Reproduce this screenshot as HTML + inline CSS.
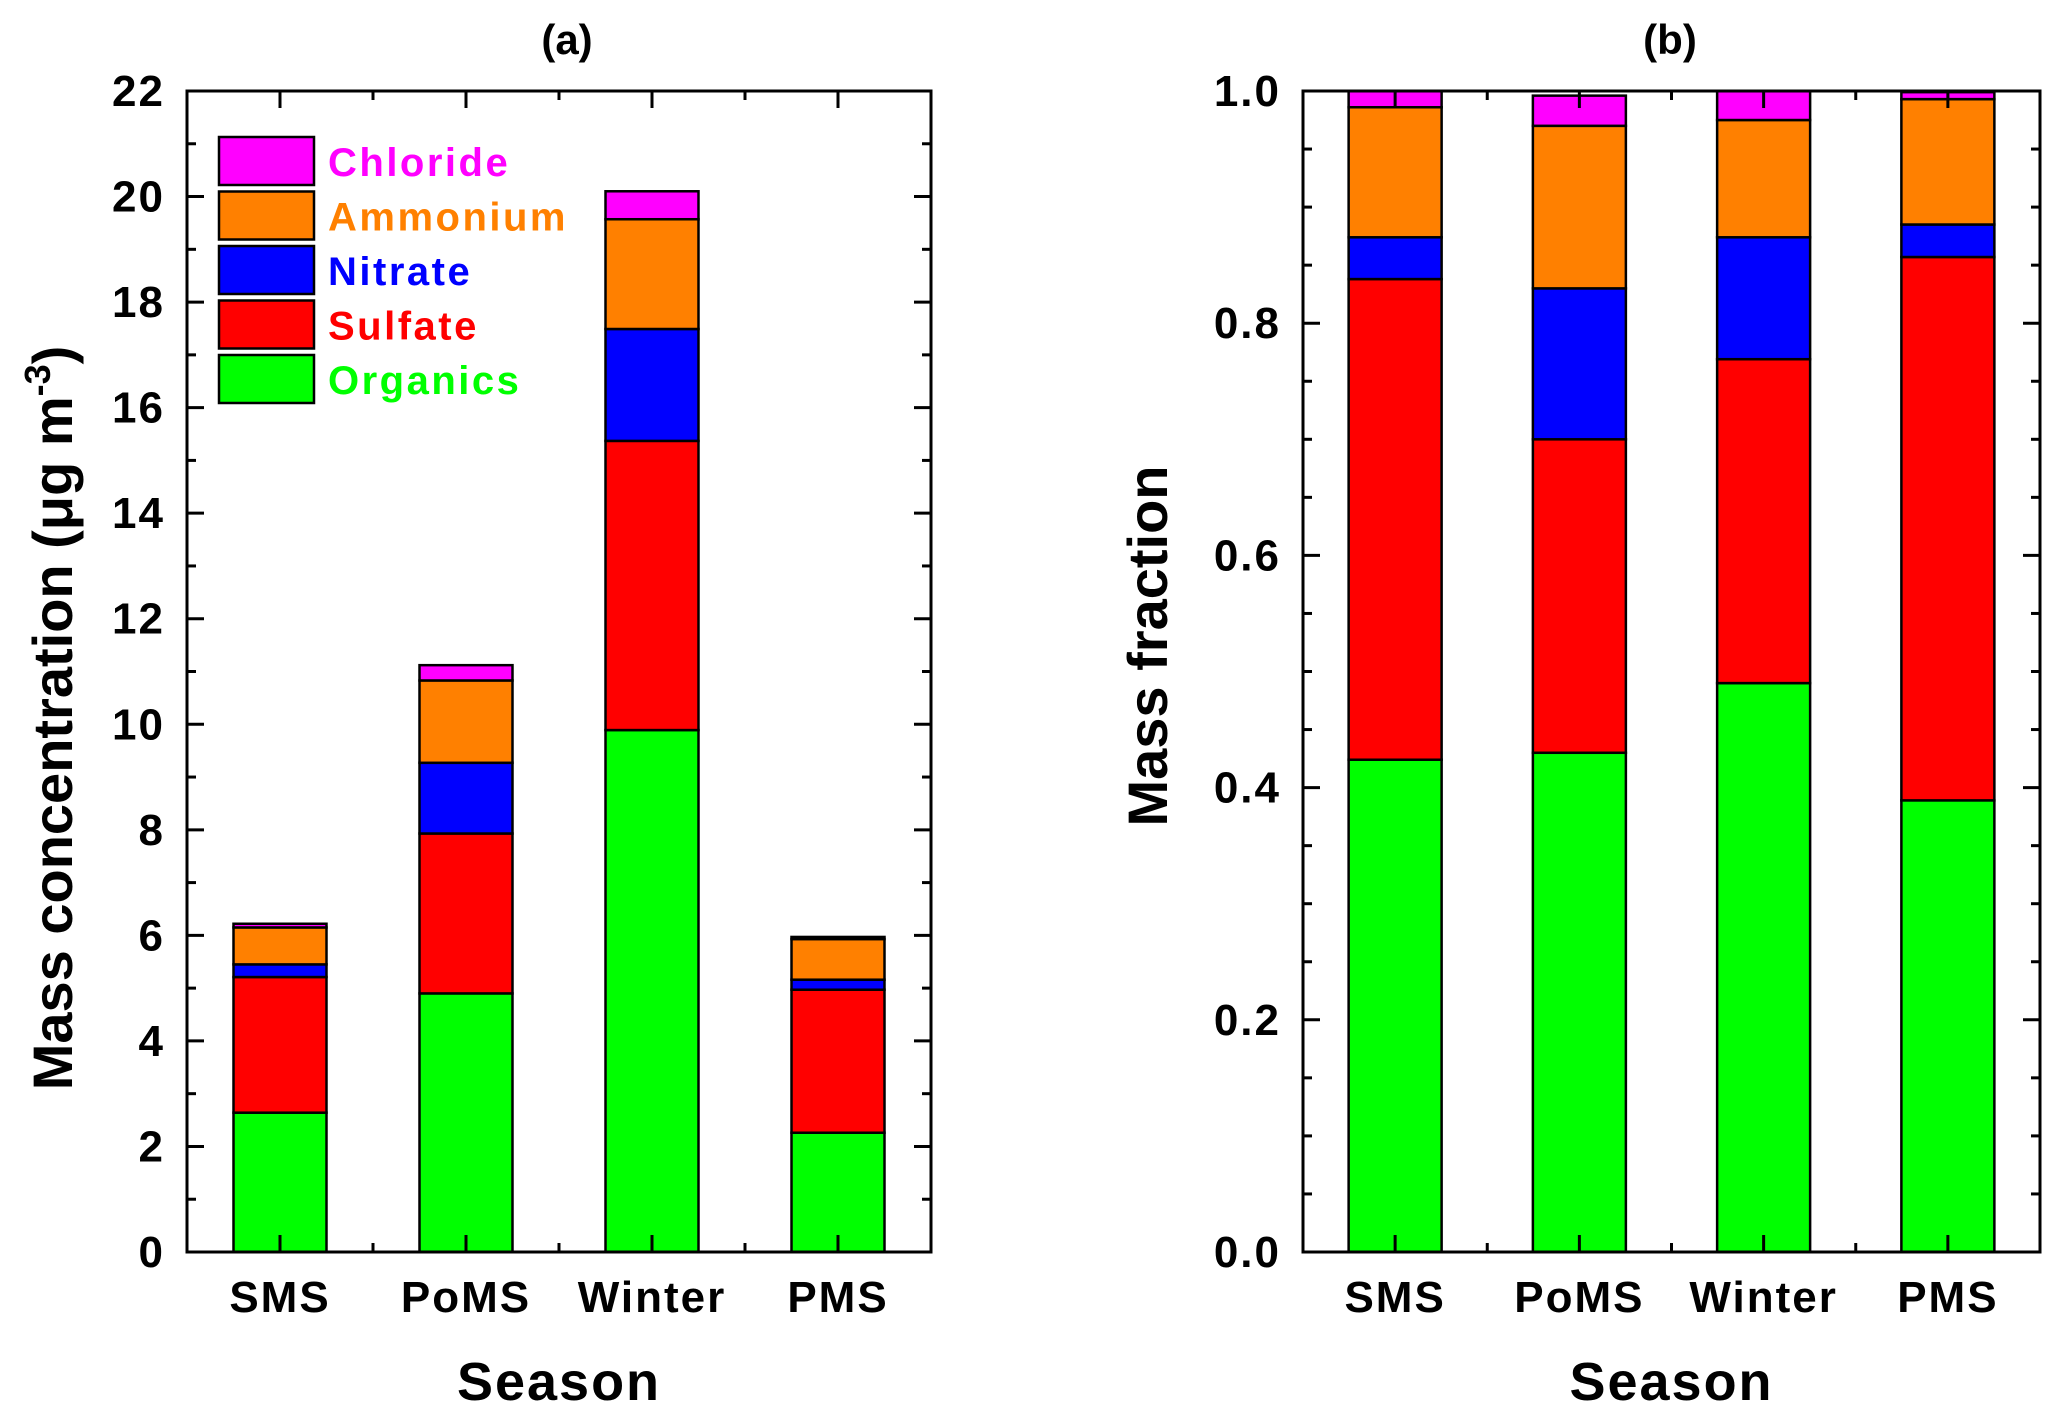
<!DOCTYPE html>
<html><head><meta charset="utf-8"><style>
html,body{margin:0;padding:0;background:#fff}
svg{display:block;font-family:"Liberation Sans",Arial,sans-serif;font-weight:bold}
</style></head><body>
<svg id="chart" width="2067" height="1419" viewBox="0 0 2067 1419" xmlns="http://www.w3.org/2000/svg"></svg>
<script>
const categories = ["SMS","PoMS","Winter","PMS"];
const species = ["Organics","Sulfate","Nitrate","Ammonium","Chloride"];
const colors = ["#00ff00","#ff0000","#0000ff","#ff8000","#ff00ff"];
const concOrganics = [2.64,4.90,9.89,2.26];
const concSulfate = [2.57,3.03,5.48,2.71];
const concNitrate = [0.24,1.34,2.12,0.19];
const concAmmonium = [0.70,1.56,2.08,0.77];
const concChloride = [0.07,0.29,0.53,0.04];
const fracOrganics = [0.424,0.430,0.490,0.389];
const fracSulfate = [0.414,0.270,0.279,0.468];
const fracNitrate = [0.036,0.130,0.105,0.028];
const fracAmmonium = [0.112,0.140,0.101,0.108];
const fracChloride = [0.014,0.026,0.025,0.006];
const ticksA = [0,2,4,6,8,10,12,14,16,18,20,22];
const ticksB = [0,0.2,0.4,0.6,0.8,1.0];

const NS="http://www.w3.org/2000/svg";
const svg=document.getElementById('chart');
function mk(tag,attrs,parent){const e=document.createElementNS(NS,tag);for(const k in attrs)e.setAttribute(k,attrs[k]);(parent||svg).appendChild(e);return e;}

function panel(cfg){
  const g=mk('g',{});
  
  
  const {x0,x1,y0,y1,ymax}=cfg;
  const ys=v=>y1-(v/ymax)*(y1-y0);
  const step=(x1-x0)/categories.length;
  const xc=i=>x0+step*(i+0.5);
  const bw=93;
  categories.forEach((c,i)=>{
    let cum=0;
    cfg.series.forEach((arr,s)=>{
      const v=arr[i];
      const r=mk('rect',{x:xc(i)-bw/2,y:ys(cum+v),width:bw,height:ys(cum)-ys(cum+v),fill:colors[s],stroke:'#000','stroke-width':2.5},g);
      
      
      cum+=v;
    });
    const t=mk('text',{x:xc(i),y:y1+60,'text-anchor':'middle','font-size':44,'letter-spacing':2},g);
    t.textContent=c;
    
    
    mk('line',{x1:xc(i),x2:xc(i),y1:y1,y2:y1-17,stroke:'#000','stroke-width':3},g);
    mk('line',{x1:xc(i),x2:xc(i),y1:y0,y2:y0+17,stroke:'#000','stroke-width':3},g);
    if(i>0){
      const xb=x0+step*i;
      mk('line',{x1:xb,x2:xb,y1:y1,y2:y1-9,stroke:'#000','stroke-width':3},g);
      mk('line',{x1:xb,x2:xb,y1:y0,y2:y0+9,stroke:'#000','stroke-width':3},g);
    }
  });
  for(let v=0; v<=ymax+1e-9; v+=cfg.minor){
    const y=ys(v);
    const isMajor=Math.abs(v/cfg.major-Math.round(v/cfg.major))<1e-6;
    const L=isMajor?17:9;
    mk('line',{x1:x0,x2:x0+L,y1:y,y2:y,stroke:'#000','stroke-width':3},g);
    mk('line',{x1:x1,x2:x1-L,y1:y,y2:y,stroke:'#000','stroke-width':3},g);
  }
  cfg.ticks.forEach(v=>{
    const t=mk('text',{x:x0-22,y:ys(v)+15,'text-anchor':'end','font-size':44,'letter-spacing':2},g);
    t.textContent=cfg.fmt(v);
    
    
  });
  const fr=mk('rect',{x:x0,y:y0,width:x1-x0,height:y1-y0,fill:'none',stroke:'#000','stroke-width':3},g);
  
  
  const xt=mk('text',{x:(x0+x1)/2,y:1400,'text-anchor':'middle','font-size':54,'letter-spacing':2},g);
  xt.textContent='Season';
  
  
  const tt=mk('text',{x:cfg.titleX,y:54,'text-anchor':'middle','font-size':42},g);
  tt.textContent=cfg.title;
  
  
}

panel({name:'panel-a',x0:187,x1:931,y0:91,y1:1252,ymax:22,major:2,minor:1,ticks:ticksA,fmt:v=>String(v),
  series:[concOrganics,concSulfate,concNitrate,concAmmonium,concChloride],title:'(a)',titleX:567});
panel({name:'panel-b',x0:1303,x1:2040,y0:91,y1:1252,ymax:1,major:0.2,minor:0.05,ticks:ticksB,fmt:v=>v.toFixed(1),
  series:[fracOrganics,fracSulfate,fracNitrate,fracAmmonium,fracChloride],title:'(b)',titleX:1670});

const yt=mk('text',{transform:'translate(72,718) rotate(-90)','text-anchor':'middle','font-size':56});


yt.appendChild(document.createTextNode('Mass concentration (μg m'));
const sup=mk('tspan',{dy:-22,'font-size':36},yt);sup.textContent='-3';
const cl=mk('tspan',{dy:22},yt);cl.textContent=')';
const yt2=mk('text',{transform:'translate(1167,646) rotate(-90)','text-anchor':'middle','font-size':56});
yt2.textContent='Mass fraction';



const leg=mk('g',{});


for(let k=0;k<5;k++){
  const s=4-k;
  const y=137+k*54.5;
  const r=mk('rect',{x:219,y:y,width:95,height:48,fill:colors[s],stroke:'#000','stroke-width':2.5},leg);
  
  
  const t=mk('text',{x:328,y:y+39,'font-size':40,'letter-spacing':2.5,fill:colors[s]},leg);
  t.textContent=species[s];
  
  
}
</script>
</body></html>
